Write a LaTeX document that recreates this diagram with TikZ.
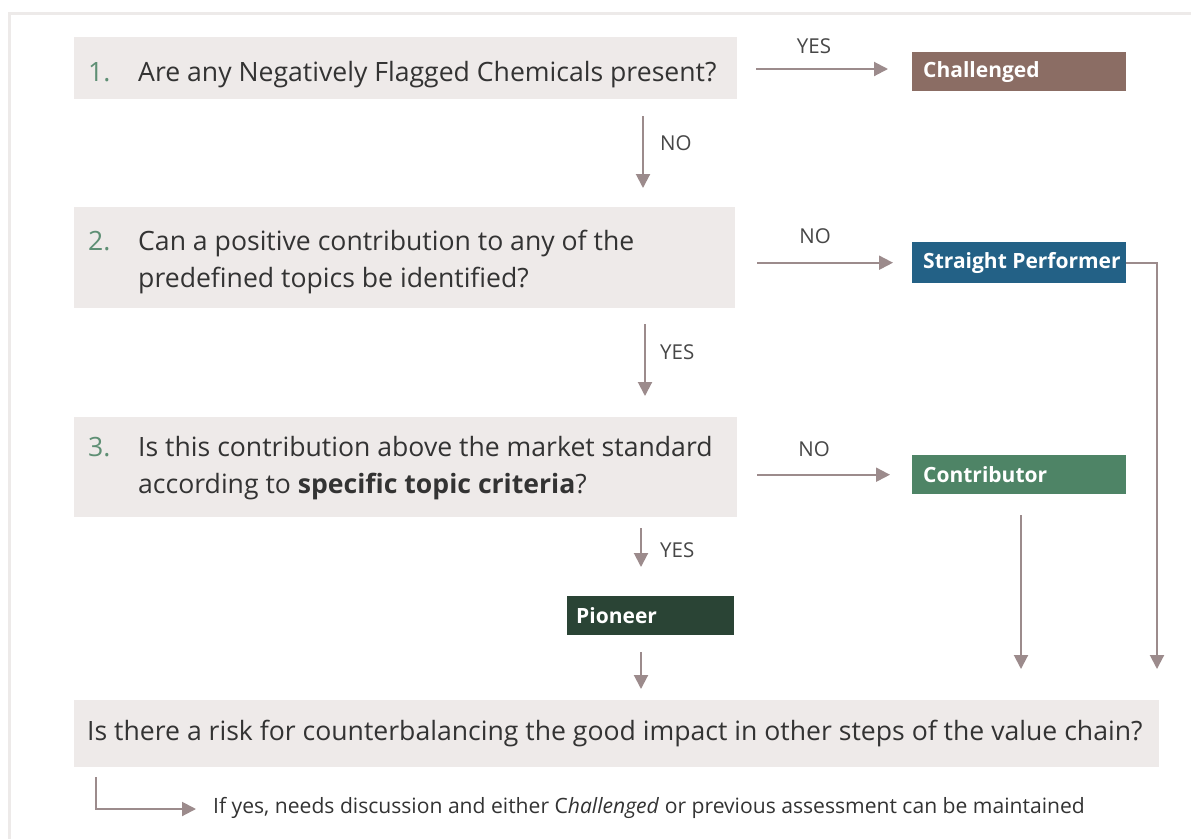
\documentclass[tikz,border=0pt]{standalone}
\usepackage{fontspec}
\setmainfont{Open Sans}
\usetikzlibrary{arrows.meta,calc}
\definecolor{qgray}{HTML}{EEEAE9}
\definecolor{chalc}{HTML}{8B6D64}
\definecolor{spc}{HTML}{236186}
\definecolor{contc}{HTML}{4E8466}
\definecolor{pionc}{HTML}{2A4435}
\definecolor{arrc}{HTML}{9C8B8C}
\definecolor{numg}{HTML}{5E8F74}
\definecolor{framec}{HTML}{EDEAE9}
\definecolor{txt}{HTML}{333333}
\begin{document}
\begin{tikzpicture}[x=1pt,y=-1pt,
  qbox/.style={fill=qgray, draw=none, anchor=north west, inner sep=0pt},
  qtxt/.style={anchor=base west, inner sep=0pt, text=txt, font=\fontsize{26.6}{37}\selectfont},
  qnum/.style={qtxt, text=numg},
  cbox/.style={draw=none, anchor=north west, inner xsep=11pt, inner ysep=0pt, text=white,
    minimum width=214pt, minimum height=39pt, font=\fontsize{21}{25}\selectfont\bfseries},
  arr/.style={draw=arrc, line width=2pt, -{Triangle[length=14pt,width=14pt]}},
  lbl/.style={text=txt!90, font=\fontsize{20.5}{24}\selectfont, inner sep=0pt},
]
\useasboundingbox (0,0) rectangle (1191,839);
\fill[white] (0,0) rectangle (1191,839);
\draw[framec, line width=3pt] (9,839) -- (9,13) -- (1191,13);

% question boxes
\node[qbox, minimum width=663pt, minimum height=62pt] (q1) at (74,37) {};
\node[qnum] (n1) at (88,81) {1.};
\node[qtxt] (t1) at (138,81) {Are any Negatively Flagged Chemicals present?};

\node[qbox, minimum width=661pt, minimum height=101pt] (q2) at (74,207) {};
\node[qnum] (n2) at (88,250) {2.};
\node[qtxt] (t2a) at (138,250) {Can a positive contribution to any of the};
\node[qtxt] (t2b) at (138,287) {predefined topics be identified?};

\node[qbox, minimum width=663pt, minimum height=100pt] (q3) at (74,417) {};
\node[qnum] (n3) at (88,456) {3.};
\node[qtxt] (t3a) at (138,456) {Is this contribution above the market standard};
\node[qtxt] (t3b) at (138,493) {according to \textbf{specific topic criteria}?};

\node[qbox, minimum width=1085pt, minimum height=67pt] (q4) at (74,700) {};
\node[qtxt] (t4) at (87,740)
  {Is there a risk for counterbalancing the good impact in other steps of the value chain?};

% outcome boxes
\node[cbox, fill=chalc] (chal) at (912,52) {\makebox[192pt][l]{Challenged}};
\node[cbox, fill=spc, minimum height=41pt] (sp) at (912,242) {\makebox[192pt][l]{Straight Performer}};
\node[cbox, fill=contc] (cont) at (912,455) {\makebox[192pt][l]{Contributor}};
\node[cbox, fill=pionc, minimum width=167pt, inner xsep=9pt] (pion) at (567,596) {\makebox[149pt][l]{Pioneer}};

% horizontal arrows
\coordinate (h1) at (0,69);
\draw[arr, shorten <=19pt, shorten >=24pt] (q1.east |- h1) -- (chal.west |- h1);
\node[lbl] (y1) at (814,46) {YES};
\draw[arr, shorten <=22pt, shorten >=19pt] (q2.east |- sp.west) -- (sp.west);
\node[lbl] (l2) at (815,236) {NO};
\draw[arr, shorten <=20pt, shorten >=22pt] (q3.east |- cont.west) -- (cont.west);
\node[lbl] (l3) at (814,449) {NO};

% vertical arrows
\coordinate (x1) at (643,0);
\draw[arr, shorten <=17pt, shorten >=19pt] (q1.south -| x1) -- (q2.north -| x1);
\node[lbl, anchor=west] (l1) at (660,143) {NO};
\coordinate (x2) at (645,0);
\draw[arr, shorten <=16pt, shorten >=21pt] (q2.south -| x2) -- (q3.north -| x2);
\node[lbl, anchor=west] (y2) at (660,352) {YES};
\coordinate (x3) at (641,0);
\draw[arr, shorten <=11pt, shorten >=29pt] (q3.south -| x3) -- (pion.north -| x3);
\node[lbl, anchor=west] (y3) at (660,550) {YES};
\draw[arr, shorten <=17pt, shorten >=11pt] (pion.south -| x3) -- (q4.north -| x3);

% right side connectors
\coordinate (spend) at (1157,669);
\draw[arr] (sp.east) -| (spend);
\coordinate (cend) at (1021,669);
\draw[arr, shorten <=21pt] (cont.south -| cend) -- (cend);

% bottom note
\node[anchor=west, inner sep=0pt, text=txt, font=\fontsize{21.1}{25}\selectfont] (note) at (213,808)
  {If yes, needs discussion and either C\textit{hallenged} or previous assessment can be maintained};
\coordinate (lc) at (96,809);
\draw[arr, shorten <=10pt, shorten >=17pt] (q4.south -| lc) -- (lc) -- (note.west |- lc);
\end{tikzpicture}
\end{document}
